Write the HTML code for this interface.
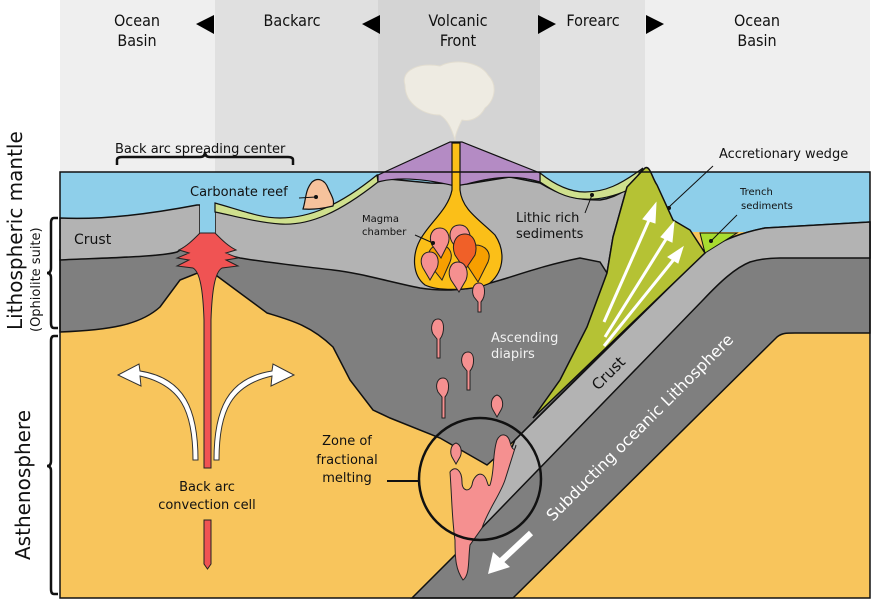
<!DOCTYPE html>
<html><head><meta charset="utf-8"><style>
html,body{margin:0;padding:0;background:#fff;}
svg{display:block;font-family:"DejaVu Sans","Liberation Sans",sans-serif;}
</style></head><body>
<svg width="873" height="603" viewBox="0 0 873 603" xmlns="http://www.w3.org/2000/svg">
<rect x="60" y="0" width="155" height="175" fill="#efefef"/>
<rect x="215" y="0" width="163" height="175" fill="#e0e0e0"/>
<rect x="378" y="0" width="162" height="175" fill="#d4d4d4"/>
<rect x="540" y="0" width="105" height="175" fill="#e2e2e2"/>
<rect x="645" y="0" width="225" height="175" fill="#efefef"/>
<g font-family="'DejaVu Sans Condensed','DejaVu Sans',sans-serif" font-size="16" fill="#111" text-anchor="middle">
<text x="137" y="26">Ocean</text><text x="137" y="46">Basin</text>
<text x="292" y="26">Backarc</text>
<text x="458" y="26">Volcanic</text><text x="458" y="46">Front</text>
<text x="593" y="26">Forearc</text>
<text x="757" y="26">Ocean</text><text x="757" y="46">Basin</text>
</g>
<polygon points="196,24 214,15 214,34" fill="#000"/>
<polygon points="362,24 380,15 380,34" fill="#000"/>
<polygon points="556,24 538,15 538,34" fill="#000"/>
<polygon points="664,24 646,15 646,34" fill="#000"/>
<path d="M405,85 C400,70 420,62 440,66 C455,58 480,62 488,75 C498,85 495,100 485,108 C480,118 470,122 462,120 C458,128 455,135 455,140 C452,130 448,120 440,115 C425,115 405,105 405,85Z" fill="#eeebe2" stroke="#e2ddd0" stroke-width="1"/>
<rect x="60" y="172" width="810" height="426" fill="#f8c55c"/>
<rect x="60" y="172" width="810" height="60" fill="#8ecfea"/>
<!-- dark mantle over-riding -->
<path d="M60,250 L705,250 L515,440 L487,465 L440,438 L390,418 L373,410 L350,380 L333,347 C310,325 290,320 267,313 L240,293 L213,273 L200,272 L180,280 L160,307 C140,325 110,330 60,332 Z" fill="#7f7f7f" stroke="#111" stroke-width="1.5"/>
<path d="M60,218 C100,220 150,214 197,205 L200,205 L200,233 L196,240 L177,252 C160,257 100,258 60,260 Z" fill="#b3b3b3" stroke="#111" stroke-width="1.5"/>
<path d="M215,205 C240,213 270,222 300,219 C335,212 355,195 378,178 L430,183 L467,184 L510,177 L540,183 C560,195 575,200 600,200 C620,197 635,185 643,170 L627,187 L613,237 L607,273 L600,262 L580,258 C540,266 510,278 490,283 C470,290 445,292 420,288 C390,282 360,273 333,270 C300,266 270,263 240,258 L215,252 Z" fill="#b3b3b3" stroke="#111" stroke-width="1.5"/>
<rect x="200" y="203" width="15" height="32" fill="#8ecfea"/>
<path d="M200,233 L215,233 C222,240 228,246 236,250 L226,253 L238,258 L226,260 L238,266 L222,268 C215,272 212,290 211,320 L211,468 L204,468 L204,320 C203,290 200,272 193,268 L177,266 L189,260 L177,258 L189,253 L179,250 C187,246 193,240 200,233Z" fill="#f05353" stroke="#222" stroke-width="1"/>
<path d="M204,520 L211,520 L211,564 L207.5,569 L204,564Z" fill="#f05353" stroke="#222" stroke-width="1"/>
<path d="M215,203 C240,210 260,218 280,218 C310,218 340,205 377,175 L378,182 C340,212 310,226 280,224 C255,222 235,216 215,212Z" fill="#cfe08e" stroke="#111" stroke-width="1.2"/>
<path d="M540,173 C555,185 570,192 585,192 C605,192 620,185 643,168 L628,190 C610,198 595,200 582,199 C565,198 552,190 540,182Z" fill="#cfe08e" stroke="#111" stroke-width="1.2"/>
<path d="M303,209 C306,200 305,190 312,182 C318,177 325,180 328,188 C331,195 335,200 333,206 C325,208 315,210 303,209Z" fill="#f6c29c" stroke="#111" stroke-width="1.2"/>
<path d="M378,175 L450,142 L462,142 L540,173 L540,182 C520,176 500,175 467,184 L455,186 C430,180 400,176 378,182Z" fill="#b48bc4" stroke="#111" stroke-width="1.2"/>
<path d="M452,143 L460,143 L460,190 C462,210 480,220 495,235 C505,250 505,270 490,283 C478,290 440,292 425,285 C412,275 412,255 420,240 C430,222 448,210 452,190Z" fill="#fbbf18" stroke="#111" stroke-width="1.2"/>
<g stroke="#222" stroke-width="1">
<path d="M440,245 C430,245 425,255 430,265 L442,280 L450,262 C454,252 448,245 440,245Z" fill="#f79f00"/>
<path d="M475,245 C465,245 462,252 465,262 L478,282 L488,262 C492,252 485,245 475,245Z" fill="#f79f00"/>
<path d="M460,225 C450,225 448,235 452,242 L461,255 L469,242 C472,235 468,225 460,225Z" fill="#f59090"/>
<path d="M440,228 C432,228 428,236 432,245 L441,258 L448,244 C451,236 447,228 440,228Z" fill="#f59090"/>
<path d="M430,252 C422,252 419,260 423,268 L430,280 L437,268 C440,260 437,252 430,252Z" fill="#f59090"/>
<path d="M465,234 C455,234 451,245 455,255 L465,270 L475,255 C478,245 474,234 465,234Z" fill="#f06028"/>
<path d="M458,262 C450,262 447,272 451,280 L459,292 L466,280 C469,272 466,262 458,262Z" fill="#f59090"/>
<path d="M479,283 C473,283 471,291 474,297 L478,302 L478,312 L481,312 L481,302 C486,296 486,283 479,283Z" fill="#f59090"/>
<path d="M438,319 C432,319 430,328 433,334 L437,339 L437,358 L440,358 L440,339 C445,333 445,319 438,319Z" fill="#f59090"/>
<path d="M468,352 C462,352 460,360 463,366 L467,371 L467,390 L470,390 L470,371 C475,365 475,352 468,352Z" fill="#f59090"/>
<path d="M443,378 C437,378 435,386 438,392 L442,397 L442,418 L445,418 L445,397 C450,391 450,378 443,378Z" fill="#f59090"/>
<path d="M497,395 C491,397 490,405 493,410 L497,417 L501,410 C504,405 503,397 497,395Z" fill="#f59090"/>
<path d="M456,443 C450,445 450,453 452,457 L456,464 L460,457 C462,453 462,445 456,443Z" fill="#f59090"/>
</g>
<!-- slab dark band -->
<path d="M412,598 L513,598 L777,337 C782,333 786,333 795,333 L870,333 L870,222 L765,228 C745,232 720,240 705,252 L515,440 L490,500 L470,540 L412,598Z" fill="#7f7f7f" stroke="#111" stroke-width="1.5"/>
<!-- slab crust -->
<path d="M870,222 L765,228 C745,232 720,240 705,252 L515,440 L490,500 L470,540 L703,300 C720,282 735,268 750,262 C760,259 770,258 780,258 L870,258Z" fill="#b3b3b3" stroke="#111" stroke-width="1.5"/>
<!-- melt zone -->
<path d="M450,472 C455,465 462,470 462,482 C462,492 470,492 472,485 C473,478 478,472 483,475 C488,478 487,488 490,485 C495,470 492,455 497,440 C501,432 508,434 510,442 C512,450 515,452 516,445 L505,480 C500,495 488,510 482,528 L470,545 C468,560 470,575 463,580 C456,570 455,560 455,540 C452,520 452,500 450,472Z" fill="#f59090" stroke="#222" stroke-width="1"/>
<!-- accretionary wedge -->
<path d="M645,168 C650,165 652,178 657,185 L673,220 L690,230 L705,253 L533,418 L560,380 L587,327 L607,273 L613,237 L627,187 Z" fill="#b5c234" stroke="#111" stroke-width="1.5"/>
<path d="M700,233 L737,233 L705,253Z" fill="#a8dc30" stroke="#111" stroke-width="1"/>
<g stroke="#fff" stroke-width="3" fill="#fff">
<line x1="604" y1="322" x2="650" y2="218"/>
<line x1="605" y1="337" x2="668" y2="236"/>
<line x1="604" y1="346" x2="675" y2="258"/>
<polygon points="656,203 643,219 655,223" stroke-width="1"/>
<polygon points="674,222 661,237 672,242" stroke-width="1"/>
<polygon points="683,247 668,257 678,263" stroke-width="1"/>
</g>
<g fill="#fff" stroke="#333" stroke-width="1">
<path d="M193,460 C193,410 180,385 140,376 L141,386 L118,375 L139,364 L140,371 C185,378 198,410 198,460Z"/>
<path d="M219,460 C219,410 232,385 272,376 L271,386 L294,375 L273,364 L272,371 C227,378 214,410 214,460Z"/>
</g>
<g fill="#fff"><line x1="531" y1="533" x2="500" y2="562" stroke="#fff" stroke-width="6"/><polygon points="488,574 493,552 510,567"/></g>
<circle cx="480" cy="479" r="61" fill="none" stroke="#111" stroke-width="2.5"/>
<line x1="387" y1="481" x2="419" y2="481" stroke="#111" stroke-width="2"/>
<rect x="60" y="172" width="810" height="426" fill="none" stroke="#111" stroke-width="1.5"/>
<g font-size="13" fill="#111">
<text x="115" y="153">Back arc spreading center</text>
<text x="190" y="196">Carbonate reef</text>
<text x="74" y="244" font-size="14">Crust</text>
<text x="362" y="222" font-size="10">Magma</text>
<text x="362" y="235" font-size="10">chamber</text>
<text x="516" y="222">Lithic rich</text>
<text x="516" y="238">sediments</text>
<text x="719" y="158">Accretionary wedge</text>
<text x="740" y="195" font-size="10">Trench</text>
<text x="741" y="209" font-size="10">sediments</text>
<text x="491" y="342" fill="#f2f2f2">Ascending</text>
<text x="491" y="358" fill="#f2f2f2">diapirs</text>
<text x="347" y="445" text-anchor="middle">Zone of</text>
<text x="347" y="464" text-anchor="middle">fractional</text>
<text x="347" y="482" text-anchor="middle">melting</text>
<text x="207" y="491" text-anchor="middle">Back arc</text>
<text x="207" y="509" text-anchor="middle">convection cell</text>
<text transform="translate(598,391) rotate(-45)" font-size="15">Crust</text>
<text transform="translate(553,522) rotate(-45)" font-size="16" fill="#fff">Subducting oceanic Lithosphere</text>
</g>
<path d="M117,165 L117,160 Q117,157 122,157 L200,157 Q205,157 205,152 Q205,157 210,157 L288,157 Q293,157 293,160 L293,165" fill="none" stroke="#111" stroke-width="2.5"/>
<g stroke="#111" stroke-width="1"><line x1="299" y1="198" x2="316" y2="197"/><line x1="415" y1="235" x2="433" y2="243"/><line x1="585" y1="213" x2="592" y2="195"/><line x1="713" y1="166" x2="669" y2="207"/><line x1="737" y1="215" x2="712" y2="240"/></g>
<g fill="#111"><circle cx="316" cy="197" r="2"/><circle cx="433" cy="243" r="2"/><circle cx="592" cy="195" r="2"/><circle cx="669" cy="208" r="2"/><circle cx="711" cy="241" r="2"/></g>
<text transform="translate(22,330) rotate(-90)" font-size="20" fill="#111">Lithospheric mantle</text>
<text transform="translate(40,332) rotate(-90)" font-size="13" fill="#111">(Ophiolite suite)</text>
<text transform="translate(30,560) rotate(-90)" font-size="20" fill="#111">Asthenosphere</text>
<path d="M58,218 L54,218 Q51,218 51,223 L51,268 Q51,273 47,273 Q51,273 51,278 L51,323 Q51,328 54,328 L58,328" fill="none" stroke="#111" stroke-width="2.5"/>
<path d="M58,336 L54,336 Q51,336 51,341 L51,461 Q51,466 47,466 Q51,466 51,471 L51,589 Q51,594 54,594 L58,594" fill="none" stroke="#111" stroke-width="2.5"/>
</svg>
</body></html>
